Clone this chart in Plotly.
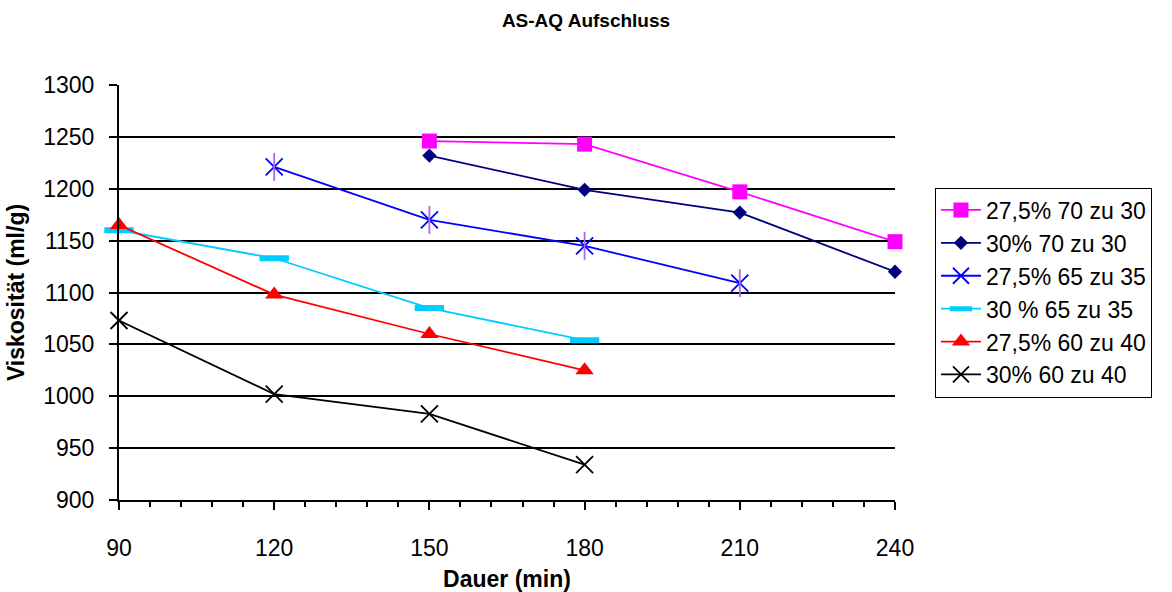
import plotly.graph_objects as go

# Dauer (min) und Viskosität (ml/g) je Aufschlussvariante
series_names = [
    "27,5% 70 zu 30",
    "30% 70 zu 30",
    "27,5% 65 zu 35",
    "30 % 65 zu 35",
    "27,5% 60 zu 40",
    "30% 60 zu 40",
]
x_7030_275 = [150, 180, 210, 240]
y_7030_275 = [1246, 1243, 1197, 1149]
x_7030_30 = [150, 180, 210, 240]
y_7030_30 = [1232, 1199, 1177, 1120]
x_6535_275 = [120, 150, 180, 210]
y_6535_275 = [1221, 1170, 1145, 1109]
x_6535_30 = [90, 120, 150, 180]
y_6535_30 = [1160, 1133, 1085, 1054]
x_6040_275 = [90, 120, 150, 180]
y_6040_275 = [1165, 1098, 1060, 1025]
x_6040_30 = [90, 120, 150, 180]
y_6040_30 = [1073, 1002, 983, 934]

FONT = "Liberation Sans, Arial, sans-serif"

fig = go.Figure()

def add_series(name, xs, ys, color, symbol, size, mline=None, group=None):
    marker = dict(symbol=symbol, size=size, color=color)
    if mline is not None:
        marker["line"] = dict(color=color, width=mline)
    fig.add_trace(go.Scatter(
        x=xs, y=ys, name=name, mode="lines+markers",
        line=dict(color=color, width=1.8),
        marker=marker, cliponaxis=False,
        legendgroup=group or name,
    ))

add_series(series_names[0], x_7030_275, y_7030_275, "#FF00FF", "square", 15)
add_series(series_names[1], x_7030_30, y_7030_30, "#000080", "diamond", 11)
add_series(series_names[2], x_6535_275, y_6535_275, "#0000FF", "x-thin-open", 17, 1.8, "g3")
# vertical spoke completing the star marker
fig.add_trace(go.Scatter(
    x=x_6535_275, y=y_6535_275, mode="markers", showlegend=False,
    legendgroup="g3", cliponaxis=False, hoverinfo="skip",
    marker=dict(symbol="line-ns-open", size=20, line=dict(color="#0000FF", width=1.8)),
))
add_series(series_names[3], x_6535_30, y_6535_30, "#00CCFF", "line-ew-open", 21, 6)
add_series(series_names[4], x_6040_275, y_6040_275, "#FF0000", "triangle-up", 16)
add_series(series_names[5], x_6040_30, y_6040_30, "#000000", "x-thin-open", 17, 1.8)

fig.update_layout(
    width=1172, height=592,
    margin=dict(l=119, r=277, t=85, b=92),
    paper_bgcolor="white", plot_bgcolor="white",
    font=dict(family=FONT, size=23, color="black"),
    title=dict(text="<b>AS-AQ Aufschluss</b>", x=0.5, xref="container",
               y=0.966, yanchor="middle", font=dict(size=19, family=FONT)),
    legend=dict(
        x=1.0515, xanchor="left", y=0.753, yanchor="top",
        bordercolor="black", borderwidth=1, bgcolor="white",
        traceorder="grouped", tracegroupgap=0,
        font=dict(size=23, family=FONT), itemwidth=40,
    ),
    showlegend=True,
)

fig.update_xaxes(
    range=[90, 240], tickmode="linear", tick0=90, dtick=30,
    ticks="outside", ticklen=8, tickwidth=1.5, tickcolor="black",
    showline=True, linecolor="black", linewidth=2,
    showgrid=False, zeroline=False, automargin=False,
    ticklabelstandoff=18,
    minor=dict(ticks="outside", dtick=6, tick0=90, ticklen=5,
               tickwidth=1.5, tickcolor="black", showgrid=False),
    title=dict(text="<b>Dauer (min)</b>", standoff=17, font=dict(size=23)),
)
fig.update_yaxes(
    range=[900, 1300], tickmode="linear", tick0=900, dtick=50,
    ticks="outside", ticklen=8, tickwidth=1.5, tickcolor="black",
    showline=True, linecolor="black", linewidth=2,
    showgrid=True, gridcolor="black", gridwidth=1.5,
    zeroline=False, automargin=False, ticklabelstandoff=10,
    title=dict(text="<b>Viskosität (ml/g)</b>", standoff=12, font=dict(size=23)),
)

fig.write_html("out.html")
